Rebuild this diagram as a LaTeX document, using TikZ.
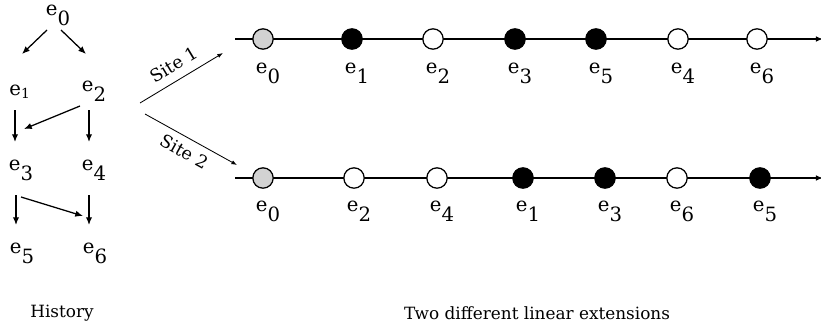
\documentclass[tikz,border=0pt]{standalone}
\usepackage{fontspec}
\setmainfont{DejaVu Serif}
\usetikzlibrary{arrows.meta,calc}

\newcommand{\ev}[1]{e\raisebox{-0.5em}{#1}}

\begin{document}
\begin{tikzpicture}[
    x=0.025cm, y=-0.025cm,
    font=\fontsize{14}{16}\selectfont,
    evt/.style={inner sep=1pt},
    dot/.style={circle, draw, line width=0.9pt, minimum size=14.5pt, inner sep=0pt},
    tline/.style={line width=0.9pt, -{Latex[length=5pt,width=4pt]}},
    treeArrow/.style={line width=0.9pt, -{Latex[length=5.5pt,width=4.5pt]}},
    siteArrow/.style={line width=0.6pt, -{Latex[length=4pt,width=3pt]}},
    siteLabel/.style={font=\fontsize{12.5}{14}\selectfont, inner sep=2pt},
    caption/.style={font=\fontsize{12}{14}\selectfont}
]
    \useasboundingbox (0,0) rectangle (821,329);

    % history
    \node[evt] (h0) at (58,15) {\ev{0}};
    \node[evt] (h1) at (20,92) {e\textsubscript{1}};
    \node[evt] (h2) at (94,91) {\ev{2}};
    \node[evt] (h3) at (21,170) {\ev{3}};
    \node[evt] (h4) at (94,170) {\ev{4}};
    \node[evt] (h5) at (22,253) {\ev{5}};
    \node[evt] (h6) at (95,253) {\ev{6}};

    \draw[treeArrow] ($(h0)+(-11,15)$) -- ($(h0)+(-36,39)$);
    \draw[treeArrow] ($(h0)+(3,15)$) -- ($(h0)+(28,39)$);
    \draw[treeArrow] ($(h1)+(-5,18)$) -- ($(h1)+(-5,50)$);
    \draw[treeArrow] ($(h2)+(-5,19)$) -- ($(h2)+(-5,51)$);
    \draw[treeArrow] ($(h2)+(-14,15)$) -- ($(h2)+(-70,38)$);
    \draw[treeArrow] ($(h3)+(-5,25)$) -- ($(h3)+(-5,55)$);
    \draw[treeArrow] ($(h4)+(-5,25)$) -- ($(h4)+(-5,55)$);
    \draw[treeArrow] ($(h3)+(0,27)$) -- ($(h3)+(62,46)$);

    \node[caption] (hist) at (62,313) {History};

    % sites
    \coordinate (fork1) at (140,103);
    \coordinate (fork2) at (145,114);
    \coordinate (tip1) at (223,53);
    \coordinate (tip2) at (237,165);
    \draw[siteArrow] (fork1) -- (tip1) node[siteLabel, midway, sloped, above=4pt] {Site 1};
    \draw[siteArrow] (fork2) -- (tip2) node[siteLabel, midway, sloped, below=3pt] {Site 2};

    % linear extensions
    \coordinate (r1s) at (235,39);
    \coordinate (r1e) at (823,39);
    \coordinate (r2s) at (235,178);
    \coordinate (r2e) at (823,178);
    \draw[tline] (r1s) -- (r1e);
    \draw[tline] (r2s) -- (r2e);

    \foreach \x/\n/\c [count=\i] in {263/0/gray!35, 352/1/black, 433/2/white, 515/3/black, 596/5/black, 678/4/white, 757/6/white}{
        \node[dot, fill=\c] (a\i) at (\x,39) {};
        \node[evt] (a\i t) at (\x+5,73) {\ev{\n}};
    }
    \foreach \x/\n/\c [count=\i] in {263/0/gray!35, 354/2/white, 437/4/white, 523/1/black, 605/3/black, 677/6/white, 760/5/black}{
        \node[dot, fill=\c] (b\i) at (\x,178) {};
        \node[evt] (b\i t) at (\x+5,211) {\ev{\n}};
    }

    \node[caption] (ext) at (537,313) {Two different linear extensions};
\end{tikzpicture}
\end{document}
